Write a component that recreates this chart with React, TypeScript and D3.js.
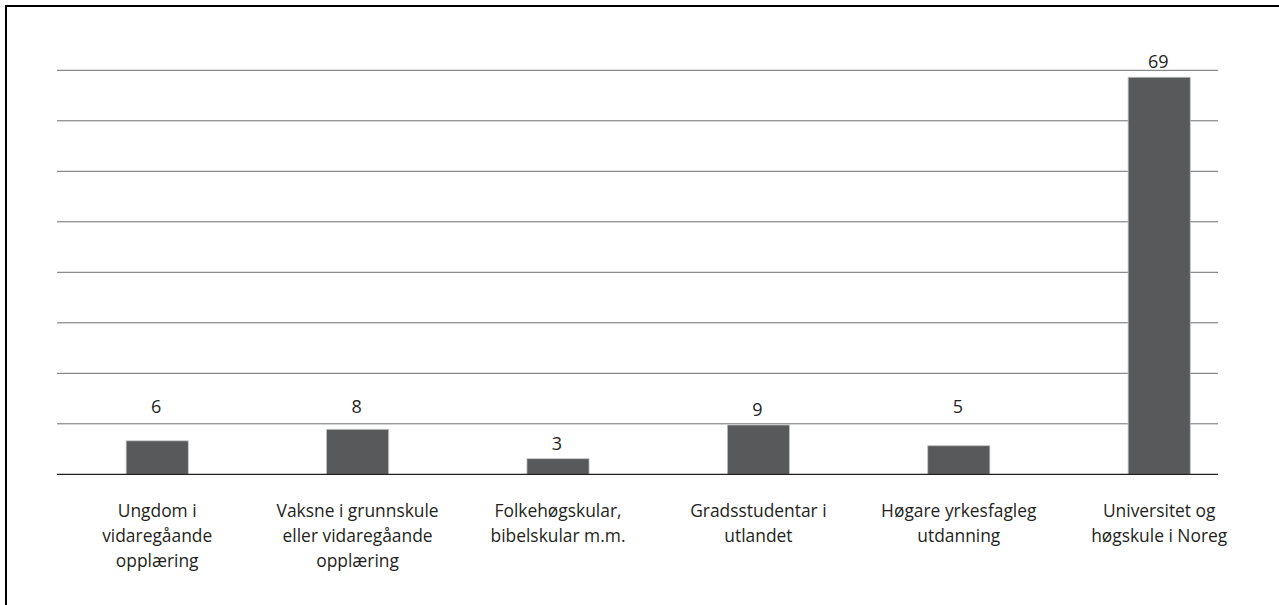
import React from "react";
import * as d3 from "d3";

const categories: string[][] = [
  ["Ungdom i", "vidaregåande", "opplæring"],
  ["Vaksne i grunnskule", "eller vidaregåande", "opplæring"],
  ["Folkehøgskular,", "bibelskular m.m."],
  ["Gradsstudentar i", "utlandet"],
  ["Høgare yrkesfagleg", "utdanning"],
  ["Universitet og", "høgskule i Noreg"],
];
const values: number[] = [5.8, 7.8, 2.7, 8.55, 4.95, 68.8];
const axisMax = 70;
const gridCount = 8;

const W = 1279;
const H = 605;
const FONT = "'Open Sans', 'Noto Sans', sans-serif";
const TEXT = "#231f20";

export default function App() {
  const x = d3
    .scaleBand<number>()
    .domain(values.map((_, i) => i))
    .range([57, 1259.4])
    .padding(0);
  const y = d3.scaleLinear().domain([0, axisMax]).range([474.3, 70.3]);
  const gridVals = d3.range(1, gridCount + 1).map((k) => (axisMax / gridCount) * k);
  const gridYs = gridVals.map((v) => y(v));
  const barW = x.bandwidth() * 0.31;
  const fmt = d3.format(".0f");
  const gap = 9;
  const labelH = 13.5;

  const labelY = (v: number) => {
    let by = y(v) - gap;
    // avoid label crossing inner gridlines (topmost gridline excluded)
    for (const g of gridYs.slice(0, -1)) {
      if (g > by - labelH - 2 && g < by + 6) {
        by = g - gap - 1.5;
      }
    }
    return by;
  };

  return (
    <div style={{ position: "fixed", left: 0, top: 0 }}>
      <svg width={W} height={H} style={{ display: "block", background: "#fff" }}>
        <rect x={6} y={6} width={1400} height={800} fill="#fff" stroke="#000" strokeWidth={2} />
        {gridVals.map((v, i) => (
          <line key={i} x1={57} x2={1218} y1={y(v)} y2={y(v)} stroke="#6d6e71" strokeWidth={1} />
        ))}
        {values.map((v, i) => {
          const cx = (x(i) as number) + x.bandwidth() / 2;
          return (
            <rect
              key={i}
              x={cx - barW / 2}
              y={y(v)}
              width={barW}
              height={y(0) - y(v)}
              fill="#58595b"
              stroke="#c4c4c4"
              strokeWidth={0.8}
            />
          );
        })}
        <line x1={57} x2={1218} y1={y(0)} y2={y(0)} stroke="#231f20" strokeWidth={1.2} />
        {values.map((v, i) => {
          const cx = (x(i) as number) + x.bandwidth() / 2;
          return (
            <text
              key={i}
              x={cx - 1}
              y={labelY(v)}
              textAnchor="middle"
              fontFamily={FONT}
              fontSize={18}
              fill={TEXT}
            >
              {fmt(v)}
            </text>
          );
        })}
        {categories.map((lines, i) => {
          const cx = (x(i) as number) + x.bandwidth() / 2;
          return (
            <text key={i} textAnchor="middle" fontFamily={FONT} fontSize={17.4} fill={TEXT}>
              {lines.map((l, j) => (
                <tspan key={j} x={cx} y={516.5 + j * 25}>
                  {l}
                </tspan>
              ))}
            </text>
          );
        })}
      </svg>
    </div>
  );
}
